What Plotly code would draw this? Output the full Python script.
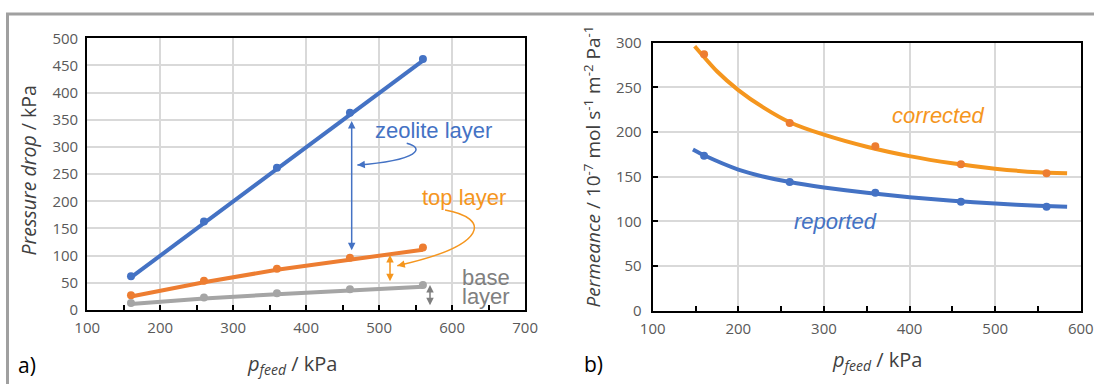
import plotly.graph_objects as go

# ---------------- data: panel a) ----------------
p_feed = [160, 260, 360, 460, 560]
zeolite_pts = [62, 163, 262, 363, 462]
top_pts = [27, 54, 76, 96, 115]
base_pts = [13, 23, 31, 38, 46]

fit_x = [160, 260, 360, 460, 560]
zeolite_fit = [60, 160, 260, 359.5, 459]
top_fit = [25, 51, 74, 93, 111]
base_fit = [11, 21, 29, 36, 43]

# ---------------- data: panel b) ----------------
perm_corr_pts = [287, 210, 184, 164, 154]
perm_rep_pts = [173.5, 144, 132, 122, 116.5]

corr_fit_x = [149, 175, 200, 230, 260, 300, 350, 400, 450, 500, 550, 584]
corr_fit_y = [296, 268, 247, 227, 211, 197, 183.5, 173, 165, 159, 155, 154]
rep_fit_x = [147, 160, 200, 230, 260, 300, 350, 400, 450, 500, 550, 584]
rep_fit_y = [180.5, 174, 158, 150, 144, 138, 132, 127, 123, 120, 117.5, 116.5]

BLUE = "#4472C4"
ORANGE = "#ED7D31"
ORANGE2 = "#F5961E"
GRAY = "#A5A5A5"
GRAYTXT = "#808080"
TICKC = "#595959"
TITLEC = "#404040"

fig = go.Figure()

for y, c in [(zeolite_fit, BLUE), (top_fit, ORANGE), (base_fit, GRAY)]:
    fig.add_trace(go.Scatter(x=fit_x, y=y, mode="lines", line=dict(color=c, width=4),
                             xaxis="x", yaxis="y", hoverinfo="skip"))
for y, c in [(zeolite_pts, BLUE), (top_pts, ORANGE), (base_pts, GRAY)]:
    fig.add_trace(go.Scatter(x=p_feed, y=y, mode="markers", marker=dict(color=c, size=8),
                             xaxis="x", yaxis="y"))

fig.add_trace(go.Scatter(x=corr_fit_x, y=corr_fit_y, mode="lines",
                         line=dict(color=ORANGE2, width=4, shape="spline", smoothing=0.6),
                         xaxis="x2", yaxis="y2", hoverinfo="skip"))
fig.add_trace(go.Scatter(x=rep_fit_x, y=rep_fit_y, mode="lines",
                         line=dict(color=BLUE, width=4, shape="spline", smoothing=0.6),
                         xaxis="x2", yaxis="y2", hoverinfo="skip"))
fig.add_trace(go.Scatter(x=p_feed, y=perm_corr_pts, mode="markers",
                         marker=dict(color=ORANGE, size=8), xaxis="x2", yaxis="y2"))
fig.add_trace(go.Scatter(x=p_feed, y=perm_rep_pts, mode="markers",
                         marker=dict(color=BLUE, size=8), xaxis="x2", yaxis="y2"))

tickfont = dict(family="Open Sans", size=15, color=TICKC)
common_x = dict(showline=True, linecolor="black", linewidth=2, mirror=True,
                showgrid=True, gridcolor="#D9D9D9", gridwidth=1.5, zeroline=False,
                automargin=False, ticklabelstandoff=3,
                dtick=100, ticks="inside", ticklen=5, tickcolor="black", tickwidth=1.5,
                minor=dict(dtick=50, ticks="inside", ticklen=5, tickcolor="black",
                           tickwidth=1.5, showgrid=False),
                tickfont=tickfont)
common_y = dict(showline=True, linecolor="black", linewidth=2, mirror=True,
                showgrid=True, gridcolor="#D9D9D9", gridwidth=1.5, zeroline=False,
                automargin=False, tickfont=tickfont)

fig.update_layout(
    template="none",
    width=1094, height=384, autosize=False,
    margin=dict(l=0, r=0, t=0, b=0, pad=0, autoexpand=False),
    paper_bgcolor="white", plot_bgcolor="white",
    showlegend=False,
    xaxis=dict(domain=[87.2 / 1094, 525.1 / 1094], range=[100, 700], anchor="y", **common_x),
    yaxis=dict(domain=[1 - 310 / 384, 1 - 38.3 / 384], range=[0, 500], dtick=50,
               anchor="x", ticks="", ticklabelstandoff=4, **common_y),
    xaxis2=dict(domain=[652.7 / 1094, 1080.8 / 1094], range=[100, 600], anchor="y2", **common_x),
    yaxis2=dict(domain=[1 - 310.7 / 384, 1 - 42.7 / 384], range=[0, 300], dtick=50,
                anchor="x2", ticks="inside", ticklen=5, tickcolor="black", tickwidth=1.5,
                ticklabelstandoff=6, **common_y),
)

ann = []
txtfont = "Liberation Sans"
ann.append(dict(x=574.4, y=331.2, xref="x", yref="y", text="zeolite layer", showarrow=False,
                font=dict(family=txtfont, size=22, color=BLUE)))
ann.append(dict(x=616.9, y=207.4, xref="x", yref="y", text="top layer", showarrow=False,
                font=dict(family=txtfont, size=22, color=ORANGE2)))
ann.append(dict(x=610.8, y=59.5, xref="x", yref="y", text="base", showarrow=False,
                xanchor="left", font=dict(family=txtfont, size=22, color=GRAYTXT)))
ann.append(dict(x=610.8, y=24.5, xref="x", yref="y", text="layer", showarrow=False,
                xanchor="left", font=dict(family=txtfont, size=22, color=GRAYTXT)))
for (xx, y0, y1, c) in [(462.4, 107.3, 347.8, BLUE), (514.9, 50.3, 101, ORANGE2),
                        (569.7, 6, 46, "#7F7F7F")]:
    ann.append(dict(x=xx, y=y1, ax=xx, ay=y0, xref="x", yref="y", axref="x", ayref="y",
                    text="", showarrow=True, arrowhead=2, arrowside="end+start",
                    arrowsize=1.0, arrowwidth=1.5, arrowcolor=c))
ann.append(dict(x=470.2, y=266.8, ax=481, ay=268, xref="x", yref="y", axref="x", ayref="y",
                text="", showarrow=True, arrowhead=2, arrowsize=1.0, arrowwidth=1.5,
                arrowcolor=BLUE))
ann.append(dict(x=524.9, y=81.5, ax=537.3, ay=85.2, xref="x", yref="y", axref="x", ayref="y",
                text="", showarrow=True, arrowhead=2, arrowsize=1.0, arrowwidth=1.5,
                arrowcolor=ORANGE2))
ann.append(dict(x=433, y=219, xref="x2", yref="y2", text="<i>corrected</i>", showarrow=False,
                font=dict(family=txtfont, size=22, color=ORANGE2)))
ann.append(dict(x=314, y=99.6, xref="x2", yref="y2", text="<i>reported</i>", showarrow=False,
                font=dict(family=txtfont, size=22, color=BLUE)))

ann.append(dict(x=28 / 1094, y=1 - 170.5 / 384, xref="paper", yref="paper",
                xanchor="center", yanchor="middle",
                text="<i>Pressure drop</i> / kPa", textangle=-90, showarrow=False,
                font=dict(family="Open Sans", size=19.5, color=TITLEC)))
ann.append(dict(x=292 / 1094, y=1 - 364 / 384, xref="paper", yref="paper",
                xanchor="center", yanchor="middle",
                text="<i>p<sub>feed</sub></i> / kPa", showarrow=False,
                font=dict(family="Open Sans", size=20, color=TITLEC)))
ann.append(dict(x=592 / 1094, y=1 - 166.5 / 384, xref="paper", yref="paper",
                xanchor="center", yanchor="middle",
                text="<i>Permeance</i> / 10<sup>-7</sup> mol s<sup>-1</sup> m<sup>-2</sup> Pa<sup>-1</sup>",
                textangle=-90, showarrow=False,
                font=dict(family="Open Sans", size=19, color=TITLEC)))
ann.append(dict(x=877 / 1094, y=1 - 360 / 384, xref="paper", yref="paper",
                xanchor="center", yanchor="middle",
                text="<i>p<sub>feed</sub></i> / kPa", showarrow=False,
                font=dict(family="Open Sans", size=20, color=TITLEC)))
ann.append(dict(x=16 / 1094, y=1 - 365 / 384, xref="paper", yref="paper", text="a)",
                xanchor="left", yanchor="middle", showarrow=False,
                font=dict(family="Open Sans", size=21, color="black")))
ann.append(dict(x=582 / 1094, y=1 - 364 / 384, xref="paper", yref="paper", text="b)",
                xanchor="left", yanchor="middle", showarrow=False,
                font=dict(family="Open Sans", size=21, color="black")))
fig.update_layout(annotations=ann)

shapes = []
shapes.append(dict(type="path", xref="x", yref="y",
                   path="M 537.8,306.8 C 562.9,298.1 556.0,276.0 470.2,266.8",
                   line=dict(color=BLUE, width=1.5)))
shapes.append(dict(type="path", xref="x", yref="y",
                   path="M 590.3,184.0 C 651.9,169.3 651.9,119.6 524.9,81.5",
                   line=dict(color=ORANGE2, width=1.5)))
shapes.append(dict(type="line", xref="paper", yref="paper", x0=6 / 1094, x1=1,
                   y0=1 - 14 / 384, y1=1 - 14 / 384, line=dict(color="#A0A0A0", width=3)))
shapes.append(dict(type="line", xref="paper", yref="paper", x0=7.5 / 1094, x1=7.5 / 1094,
                   y0=0, y1=1 - 14 / 384, line=dict(color="#A0A0A0", width=3)))
fig.update_layout(shapes=shapes)

fig.write_html("out.html")
